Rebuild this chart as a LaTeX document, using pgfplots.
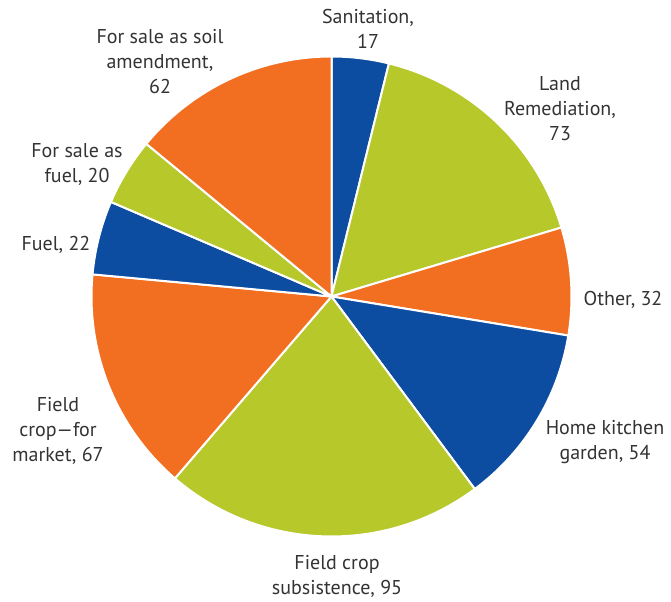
\documentclass[border=0pt]{standalone}
\usepackage{pgfplots}
\usepackage{pgfplotstable}
\pgfplotsset{compat=1.18}
\usepackage{fontspec}
\setmainfont{PT Sans}

\definecolor{cBlue}{HTML}{0C4DA2}
\definecolor{cGreen}{HTML}{B7C82B}
\definecolor{cOrange}{HTML}{F26F21}
\definecolor{txt}{HTML}{333333}

% slices clockwise from 12 o'clock
\pgfplotstableread{
value color
17 cBlue
73 cGreen
32 cOrange
54 cBlue
95 cGreen
67 cOrange
22 cBlue
20 cGreen
62 cOrange
}\piedata

% total and start/end angles of each slice (done here so no stray spaces)
\gdef\total{0}
\foreach \i in {0,...,8}{%
  \pgfplotstablegetelem{\i}{value}\of\piedata
  \pgfmathsetmacro\tmp{\total+\pgfplotsretval}%
  \xdef\total{\tmp}%
}
\gdef\cum{0}
\foreach \i in {0,...,8}{%
  \pgfplotstablegetelem{\i}{value}\of\piedata
  \pgfmathsetmacro\tmpa{90-\cum/\total*360}%
  \pgfmathsetmacro\tmpc{\cum+\pgfplotsretval}%
  \pgfmathsetmacro\tmpb{90-\tmpc/\total*360}%
  \expandafter\xdef\csname sa\i\endcsname{\tmpa}%
  \expandafter\xdef\csname sb\i\endcsname{\tmpb}%
  \xdef\cum{\tmpc}%
  \pgfplotstablegetelem{\i}{color}\of\piedata
  \expandafter\xdef\csname sc\i\endcsname{\pgfplotsretval}%
}

\begin{document}
\begin{tikzpicture}
\begin{axis}[
    at={(0,0)}, anchor=south west,
    scale only axis,
    width=503.25pt, height=451.5pt,
    xmin=0, xmax=671, ymin=0, ymax=602,
    hide axis, clip=false,
]
\pgfplotsinvokeforeach{0,...,8}{
  \fill[\csname sc#1\endcsname, draw=white, line width=1.5pt, line join=round]
    (axis cs:331.5,305.5) -- ++(\csname sa#1\endcsname:180pt)
    arc[start angle=\csname sa#1\endcsname, end angle=\csname sb#1\endcsname, radius=180pt] -- cycle;
}
\begin{scope}[every node/.style={text=txt, align=center, inner sep=0pt, font=\fontsize{15}{18.75}\selectfont}]
\node at (axis cs:368,573.5) {Sanitation,\\17};
\node at (axis cs:560,493.5) {Land\\Remediation,\\73};
\node at (axis cs:623,302) {Other, 32};
\node at (axis cs:605,159.5) {Home kitchen\\garden, 54};
\node at (axis cs:337,26) {Field crop\\subsistence, 95};
\node at (axis cs:58,171.5) {Field\\crop—for\\market, 67};
\node at (axis cs:56,357) {Fuel, 22};
\node at (axis cs:77,437.5) {For sale as\\fuel, 20};
\node at (axis cs:160,540.5) {For sale as soil\\amendment,\\62};
\end{scope}
\end{axis}
\pgfresetboundingbox
\path (0,0) rectangle (503.25pt,451.5pt);
\end{tikzpicture}
\end{document}
